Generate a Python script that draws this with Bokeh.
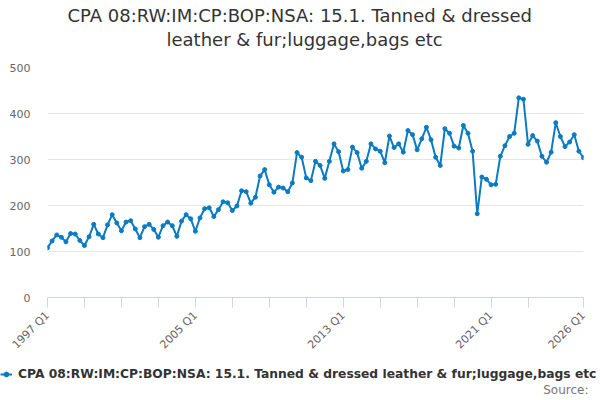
import math
from bokeh.plotting import figure
from bokeh.layouts import column
from bokeh.models import Range1d, FixedTicker, Title, Legend, LegendItem, Label, ColumnDataSource
from bokeh.embed import file_html
from bokeh.resources import INLINE

title_lines = ["CPA 08:RW:IM:CP:BOP:NSA: 15.1. Tanned & dressed",
               "leather & fur;luggage,bags etc"]
series_name = "CPA 08:RW:IM:CP:BOP:NSA: 15.1. Tanned & dressed leather & fur;luggage,bags etc"
source_text = "Source:"

first_year = 1997
last_year = 2026

values = [
    108, 123, 136, 131, 121, 139, 138, 124,
    113, 132, 159, 138, 130, 158, 180, 162,
    145, 164, 167, 149, 130, 154, 159, 148,
    131, 156, 164, 156, 133, 166, 180, 171,
    144, 173, 193, 195, 176, 191, 208, 206,
    189, 199, 232, 230, 205, 218, 264, 278,
    245, 229, 240, 238, 230, 249, 315, 305,
    260, 254, 296, 287, 259, 296, 334, 317,
    275, 278, 327, 315, 281, 296, 334, 323,
    318, 293, 351, 326, 334, 316, 363, 354,
    321, 345, 370, 343, 305, 287, 367, 357,
    329, 325, 374, 357, 318, 182, 262, 257,
    245, 246, 307, 330, 350, 357, 434, 431,
    333, 352, 340, 307, 294, 316, 380, 350,
    328, 338, 354, 318, 304,
]

categories = [f"{y} Q{q}" for y in range(first_year, last_year + 1) for q in range(1, 5)][:len(values)]
tick_labels = ["1997 Q1", "2005 Q1", "2013 Q1", "2021 Q1", "2026 Q1"]
y_ticks = [0, 100, 200, 300, 400, 500]

xs = list(range(len(values)))
label_ticks = [categories.index(t) for t in tick_labels]
minor_ticks = list(range(0, len(values) - 8, 8)) + [len(values) - 1]

LINE = "#0b7bc1"
FONT = "DejaVu Sans"

W = 600
H1, H2 = 360, 40
FL, FR, FT, FB = 47, 583, 67, 297

p = figure(width=W, height=H1, output_backend="svg", toolbar_location=None,
           title=None, x_range=Range1d(0, len(values) - 1), y_range=Range1d(0, 500),
           min_border_left=FL, min_border_right=W - FR, min_border_top=FT,
           min_border_bottom=H1 - FB)
p.frame_align = False
p.outline_line_color = None
p.background_fill_color = "white"
p.border_fill_color = "white"

src = ColumnDataSource(dict(x=xs, y=values, cat=categories))
p.line("x", "y", source=src, line_color=LINE, line_width=2)
p.scatter("x", "y", source=src, size=4, fill_color=LINE, line_color=LINE)

# axes
xa = p.xaxis[0]
xa.ticker = FixedTicker(ticks=label_ticks, minor_ticks=minor_ticks)
xa.major_label_overrides = {t: lab for t, lab in zip(label_ticks, tick_labels)}
xa.major_label_orientation = math.pi / 4
xa.major_tick_out = 0
xa.major_tick_in = 0
xa.minor_tick_out = 10
xa.minor_tick_in = 0
xa.minor_tick_line_color = "#ccd6eb"
xa.axis_line_color = "#ccd6eb"
xa.major_label_text_font = FONT
xa.major_label_text_font_size = "11px"
xa.major_label_text_color = "#666666"
xa.major_label_standoff = 6

ya = p.yaxis[0]
ya.ticker = FixedTicker(ticks=y_ticks)
ya.axis_line_color = None
ya.major_tick_line_color = None
ya.minor_tick_line_color = None
ya.major_tick_out = 0
ya.major_tick_in = 0
ya.major_label_standoff = 17
ya.major_label_text_font = FONT
ya.major_label_text_font_size = "11px"
ya.major_label_text_color = "#666666"

p.xgrid.grid_line_color = None
p.ygrid.ticker = FixedTicker(ticks=y_ticks)
p.ygrid.grid_line_color = "#e6e6e6"

# spacer between plot and title, then the two title lines (nearest first)
p.add_layout(Title(text=" ", text_font_size="2px", standoff=14), "above")
p.add_layout(Title(text=title_lines[1], align="left", offset=166 - FL,
                   text_font=FONT, text_font_size="18px", text_font_style="normal",
                   text_color="#333333", standoff=0), "above")
p.add_layout(Title(text=title_lines[0], align="left", offset=67 - FL,
                   text_font=FONT, text_font_size="18px", text_font_style="normal",
                   text_color="#333333", standoff=2), "above")

# footer strip: legend and source
q = figure(width=W, height=H2, output_backend="svg", toolbar_location=None,
           title=None, x_axis_location=None, y_axis_location=None,
           x_range=Range1d(0, 1), y_range=Range1d(0, 1), min_border=0)
q.frame_align = False
q.outline_line_color = None
q.background_fill_color = "white"
q.border_fill_color = "white"
q.grid.visible = False
# key renderers share the series source; its points fall outside this strip's ranges
kl = q.line("x", "y", source=src, line_color=LINE, line_width=2)
kd = q.scatter("x", "y", source=src, size=4, fill_color=LINE, line_color=LINE)

legend = Legend(items=[LegendItem(label=series_name, renderers=[kl, kd])],
                location=(0, H2 - (374 - H1) - 7), orientation="horizontal",
                padding=0, margin=0, spacing=0, glyph_width=12, glyph_height=14,
                label_height=14, label_standoff=6,
                border_line_color=None, background_fill_alpha=0,
                label_text_font=FONT, label_text_font_size="12.3px",
                label_text_font_style="bold", label_text_color="#333333")
q.add_layout(legend)

q.add_layout(Label(x=588, y=H2 - (389 - H1), x_units="screen", y_units="screen",
                   text=source_text, text_align="right", text_baseline="middle",
                   text_font=FONT, text_font_size="12px", text_color="#777777"))

layout = column(p, q, spacing=0)
open("out.html", "w").write(file_html(layout, INLINE))
